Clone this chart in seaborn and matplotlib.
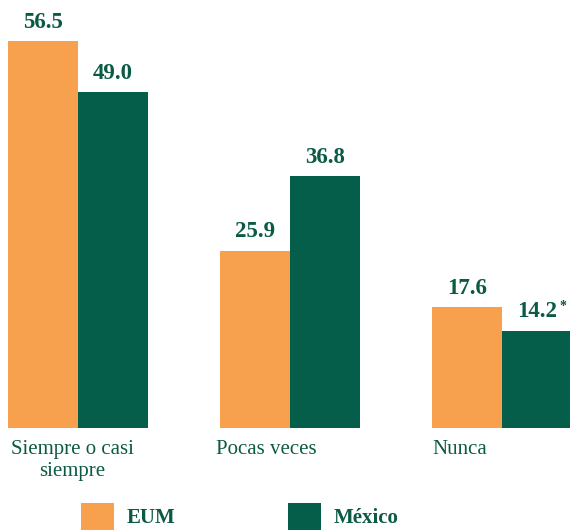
"""Frecuencia reportada: EUM vs México (barras agrupadas)."""

import pandas as pd
import matplotlib
matplotlib.use("Agg")
import matplotlib.pyplot as plt
import seaborn as sns

# Datos
categorias = ["Siempre o casi\nsiempre", "Pocas veces", "Nunca"]
grupos = ["EUM", "México"]
valores_eum = [56.5, 25.9, 17.6]
valores_mexico = [49.0, 36.8, 14.2]
notas_mexico = ["", "", "*"]

NARANJA = "#F7A04E"
VERDE = "#055E4A"
TEXTO = "#0B5A45"

sns.set_theme(style="white")
plt.rcParams["font.family"] = ["Liberation Serif", "DejaVu Serif"]

df = pd.DataFrame({
    "categoria": categorias * 2,
    "grupo": [grupos[0]] * len(categorias) + [grupos[1]] * len(categorias),
    "valor": valores_eum + valores_mexico,
})

fig = plt.figure(figsize=(5.7, 5.31), dpi=100)
ax = fig.add_axes([0, 0.194, 1, 0.806])

sns.barplot(
    data=df, x="categoria", y="valor", hue="grupo",
    palette=[NARANJA, VERDE], width=0.66, gap=0, saturation=1,
    linewidth=0, edgecolor="none", ax=ax,
)

ax.set_xlim(-0.368, 2.32)
ax.set_ylim(0, 62.5)
for s in ax.spines.values():
    s.set_visible(False)
ax.set_yticks([])
ax.set_xlabel("")
ax.set_ylabel("")

# etiquetas de categoría algo desplazadas a la izquierda, como en el original
ax.set_xticks([i * 0.915 - 0.028 for i in range(len(categorias))])
ax.set_xticklabels(categorias, fontsize=15, color=TEXTO, linespacing=1.2)
ax.tick_params(axis="x", length=0, pad=9)

# valores sobre las barras
for cont in ax.containers:
    ax.bar_label(cont, fmt="%.1f", padding=6, fontsize=16.5,
                 fontweight="bold", color=TEXTO)

# asterisco
for patch, nota in zip(ax.containers[1], notas_mexico):
    if nota:
        ax.annotate(nota, xy=(patch.get_x() + patch.get_width() / 2, patch.get_height()),
                    xytext=(18.5, 12.5), textcoords="offset points",
                    ha="center", va="bottom", fontsize=10, fontweight="bold",
                    color=TEXTO)

handles, labels = ax.get_legend_handles_labels()
ax.legend(
    handles, labels, loc="center", bbox_to_anchor=(0.421, 0.027),
    bbox_transform=fig.transFigure, ncol=2, frameon=False,
    handlelength=1.6, handleheight=1.6, handletextpad=0.6, columnspacing=5.4,
    borderpad=0, borderaxespad=0,
    prop={"size": 15, "weight": "bold", "family": "Liberation Serif"},
    labelcolor=TEXTO,
)

fig.savefig("out.png", dpi=100)
